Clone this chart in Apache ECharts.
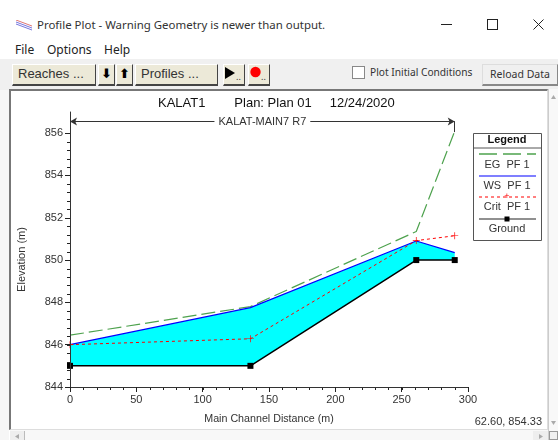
<!DOCTYPE html>
<html><head><meta charset="utf-8">
<script src="https://cdn.jsdelivr.net/npm/echarts@6/dist/echarts.min.js"></script>
<style>
html,body{margin:0;padding:0;background:#fff;overflow:hidden}
#page{position:relative;width:558px;height:440px;overflow:hidden;font-family:"Noto Sans",sans-serif;color:#222}
#page div{position:absolute;box-sizing:border-box;white-space:nowrap}
.btn{background:#ece9d8;border-right:1px solid #444;border-bottom:2px solid #444;border-top:1px solid #fff;border-left:1px solid #fff;font-size:13px;line-height:18px;color:#333;font-family:"Liberation Sans",sans-serif}
#main{left:0;top:0;width:558px;height:440px}
</style></head><body>
<div id="page">
<div style="left:0;top:59px;width:558px;height:31px;background:#f0f0f0"></div>
<div style="left:0;top:90px;width:9px;height:350px;background:#f6f6f6"></div>
<div style="left:9px;top:89px;width:539px;height:341px;background:#fff;border-left:2px solid #777;border-top:2px solid #777;border-right:1px solid #ddd;border-bottom:1px solid #ddd"></div>
<div style="left:548px;top:89px;width:10px;height:351px;background:#f8f8f8;border-left:1px solid #ccc"></div>
<div style="left:10px;top:430px;width:538px;height:10px;background:#f8f8f8"></div>
<div style="left:10px;top:431px;width:15px;height:9px;background:#eee;border-right:1px solid #bbb"></div>
<div style="left:533px;top:431px;width:15px;height:9px;background:#eee"></div>
<div style="left:549px;top:431px;width:9px;height:9px;background:#f0f0f0;border:1px solid #999"></div>
<svg style="position:absolute;left:0;top:0;pointer-events:none" width="558" height="440"><path d="M19 434L15 436.5L19 439z" fill="#aaa"/><path d="M539 434L543 436.5L539 439z" fill="#aaa"/><path d="M551 99L553.5 95L556 99z" fill="#aaa"/><path d="M551 421L553.5 425L556 421z" fill="#aaa"/></svg>
<svg style="position:absolute;left:16px;top:20px" width="18" height="12"><path d="M0 2L16 8M0 4L16 10" stroke="#7777dd" fill="none"/><path d="M0 0L16 6" stroke="#dd7777" fill="none"/></svg>
<div style="left:37px;top:16px;font-size:11.45px;line-height:18px;color:#333">Profile Plot - Warning Geometry is newer than output.</div>
<div style="left:15px;top:42px;font-size:12px;line-height:16px">File</div>
<div style="left:47px;top:42px;font-size:12px;line-height:16px">Options</div>
<div style="left:104px;top:42px;font-size:12px;line-height:16px">Help</div>
<div style="left:441px;top:24px;width:11px;height:1px;background:#222"></div>
<div style="left:487px;top:19px;width:11px;height:11px;border:1px solid #222"></div>
<svg style="position:absolute;left:533px;top:19px" width="12" height="12"><path d="M0.5 0.5L10.5 10.5M10.5 0.5L0.5 10.5" stroke="#222" fill="none"/></svg>
<div class="btn" style="left:12px;top:64px;width:84px;height:22px;padding-left:5px">Reaches ...</div>
<div class="btn" style="left:98px;top:64px;width:17px;height:22px;text-align:center;color:#000;font-weight:bold;font-family:'DejaVu Sans'">&#11015;</div>
<div class="btn" style="left:116px;top:64px;width:17px;height:22px;text-align:center;color:#000;font-weight:bold;font-family:'DejaVu Sans'">&#11014;</div>
<div class="btn" style="left:135px;top:64px;width:83px;height:22px;padding-left:5px">Profiles ...</div>
<div class="btn" style="left:223px;top:64px;width:22px;height:22px"></div>
<svg style="position:absolute;left:225px;top:67px" width="18" height="14"><path d="M0 0L10 6L0 12z" fill="#000"/></svg>
<div style="left:236px;top:72px;font-size:9px;line-height:10px;color:#333">..</div>
<div class="btn" style="left:248px;top:64px;width:22px;height:22px"></div>
<svg style="position:absolute;left:249px;top:66px" width="14" height="14"><circle cx="6.5" cy="6" r="5.2" fill="#f00"/></svg>
<div style="left:261px;top:72px;font-size:9px;line-height:10px;color:#333">..</div>
<div style="left:352px;top:66px;width:13px;height:13px;border:1px solid #888;background:#fff"></div>
<div style="left:370px;top:64px;font-size:10.2px;line-height:16px;color:#333">Plot Initial Conditions</div>
<div style="left:482px;top:64px;width:76px;height:22px;background:#f0f0f0;border-right:1px solid #888;border-bottom:2px solid #888;border-top:1px solid #ddd;border-left:1px solid #ddd;font-size:10.5px;line-height:19px;text-align:center;color:#333">Reload Data</div>
<div id="main"></div>
</div>
<script>
const seriesNames = ['EG  PF 1', 'WS  PF 1', 'Crit  PF 1', 'Ground'];
const stations = [0, 136, 261, 290];
const egValues = [846.45, 847.8, 851.35, 856.1];
const wsValues = [846.0, 847.75, 850.9, 850.35];
const critValues = [846.0, 846.28, 850.92, 851.15];
const groundValues = [845, 845, 850, 850];
const xTicks = { min: 0, max: 300, step: 50, minorCount: 30 };
const yTicks = { min: 844, max: 857, top: 856, step: 2, minorCount: 30 };
const plotTitle = 'KALAT1        Plan: Plan 01     12/24/2020';
const reachLabel = 'KALAT-MAIN7 R7';
const reachElevation = 856.55;
const reachEndElevation = 856.05;
const cursorText = '62.60, 854.33';

const pairs = v => stations.map((s, i) => [s, v[i]]);
const range = (a, b, n) => Array.from({ length: n + 1 }, (_, i) => +(a + (b - a) * i / n).toFixed(2));
const xMinor = range(xTicks.min, xTicks.max, xTicks.minorCount);
const yMinor = range(yTicks.min, yTicks.top, yTicks.minorCount);
const plus = 'path://M4.5 0h1v4.5h4.5v1h-4.5v4.5h-1v-4.5h-4.5v-1h4.5z';
const chart = echarts.init(document.getElementById('main'), null, { renderer: 'canvas' });
const textCol = '#333';
const chartFont = '"Liberation Sans", Arial, sans-serif';
const legendRows = [
  { y: 154, ty: 165, col: '#4ea24e', w: 1.5, dash: [18, 6] },
  { y: 176, ty: 186, col: '#0000ff', w: 1.2 },
  { y: 197, ty: 207, col: '#ff0000', w: 1, dash: [3, 3], mark: 'plus' },
  { y: 219, ty: 229, col: '#222', w: 1.2, mark: 'rect' }
];
const legendGraphics = [
  { type: 'rect', shape: { x: 473.5, y: 133.5, width: 68, height: 107 }, style: { fill: '#fff', stroke: '#555', lineWidth: 1 } },
  { type: 'line', shape: { x1: 473, y1: 148, x2: 541, y2: 148 }, style: { stroke: '#555', lineWidth: 1 } },
  { type: 'text', x: 507, y: 140, style: { text: 'Legend', font: 'bold 11px ' + chartFont, fill: '#111', align: 'center', verticalAlign: 'middle' } }
];
legendRows.forEach((r, i) => {
  legendGraphics.push({ type: 'line', shape: { x1: 479, y1: r.y, x2: 536, y2: r.y }, style: { stroke: r.col, lineWidth: r.w, lineDash: r.dash || null } });
  legendGraphics.push({ type: 'text', x: 507, y: r.ty, style: { text: seriesNames[i], font: '11px ' + chartFont, fill: textCol, align: 'center', verticalAlign: 'middle' } });
  if (r.mark === 'rect') legendGraphics.push({ type: 'rect', shape: { x: 504.5, y: r.y - 2.5, width: 5, height: 5 }, style: { fill: '#000' } });
  if (r.mark === 'plus') legendGraphics.push({ type: 'text', x: 507, y: r.y, style: { text: '+', font: '9px ' + chartFont, fill: '#f00', align: 'center', verticalAlign: 'middle' } });
});
const axisLineStyle = { color: '#333', width: 1 };
chart.setOption({
  backgroundColor: 'transparent',
  animation: false,
  textStyle: { fontFamily: chartFont },
  title: { text: plotTitle, left: 158, top: 97, padding: 0, textStyle: { fontSize: 13, fontWeight: 'normal', color: '#111', fontFamily: chartFont } },
  grid: { left: 70, top: 112, width: 398, height: 275 },
  xAxis: {
    type: 'value', min: xTicks.min, max: xTicks.max, interval: xTicks.step, z: 10,
    name: 'Main Channel Distance (m)', nameLocation: 'middle', nameGap: 27,
    nameTextStyle: { fontSize: 10.7, color: textCol },
    axisLine: { lineStyle: axisLineStyle },
    axisTick: { length: 5, lineStyle: { color: '#222' } },
    axisLabel: { fontSize: 11, color: textCol, margin: 7 },
    splitLine: { show: false }
  },
  yAxis: {
    type: 'value', min: yTicks.min, max: yTicks.max, interval: yTicks.step, z: 10,
    name: 'Elevation (m)', nameLocation: 'middle', nameGap: 43, nameRotate: 90,
    nameTextStyle: { fontSize: 11, color: textCol, padding: [0, 20, 0, 0] },
    axisLine: { onZero: false, lineStyle: axisLineStyle },
    axisTick: { length: 5, lineStyle: { color: '#222' }, customValues: range(yTicks.min, yTicks.top, (yTicks.top - yTicks.min) / yTicks.step) },
    axisLabel: { fontSize: 11, color: textCol, margin: 7, showMaxLabel: false },
    splitLine: { show: false }
  },
  legend: { show: false, data: seriesNames },
  series: [
    { name: 'Flow area', type: 'custom', silent: true, z: 1, data: [0], coordinateSystem: 'cartesian2d',
      renderItem: (params, api) => {
        const upper = pairs(wsValues).map(p => api.coord(p));
        const lower = pairs(groundValues).map(p => api.coord(p)).reverse();
        return { type: 'polygon', shape: { points: upper.concat(lower) }, style: { fill: '#00ffff' } };
      } },
    { name: 'Minor ticks', type: 'custom', silent: true, z: 9, clip: false, data: [0], coordinateSystem: 'cartesian2d',
      renderItem: (params, api) => {
        const style = { stroke: '#222', lineWidth: 1, fill: 'none' };
        const kids = [];
        xMinor.forEach(v => { const p = api.coord([v, yTicks.min]); const x = Math.round(p[0]) + 0.5; kids.push({ type: 'line', shape: { x1: x, y1: p[1], x2: x, y2: p[1] + 3 }, style }); });
        yMinor.forEach(v => { const p = api.coord([xTicks.min, v]); const y = Math.round(p[1]) + 0.5; kids.push({ type: 'line', shape: { x1: p[0] - 3, y1: y, x2: p[0], y2: y }, style }); });
        return { type: 'group', children: kids };
      } },
    { name: seriesNames[0], type: 'line', data: pairs(egValues), showSymbol: false, lineStyle: { color: '#4ea24e', width: 1.2, type: [14, 5] }, z: 4 },
    { name: seriesNames[1], type: 'line', data: pairs(wsValues), showSymbol: false, lineStyle: { color: '#0000ff', width: 1.2 }, z: 5 },
    { name: seriesNames[2], type: 'line', data: pairs(critValues), symbol: plus, symbolSize: 7, itemStyle: { color: '#ff0000' }, lineStyle: { color: '#ff0000', width: 1, type: [3, 3] }, z: 6 },
    { name: seriesNames[3], type: 'line', data: pairs(groundValues), symbol: 'rect', symbolSize: 6, itemStyle: { color: '#000' }, lineStyle: { color: '#000', width: 1.5 }, z: 7,
      markLine: {
        silent: true, animation: false, symbol: ['arrow', 'arrow'], symbolSize: [6, 7], precision: 2,
        lineStyle: { color: '#333', width: 1, type: 'solid' },
        label: { show: true, position: 'insideMiddle', formatter: reachLabel, fontSize: 11, color: textCol, backgroundColor: '#fff', padding: [1, 4] },
        data: [
          [{ coord: [xTicks.min, reachElevation] }, { coord: [stations[3], reachElevation] }],
          [{ coord: [stations[3], reachElevation], symbol: 'none', label: { show: false } }, { coord: [stations[3], reachEndElevation], symbol: 'none' }]
        ]
      } }
  ],
  graphic: legendGraphics.concat([
    { type: 'text', right: 16, top: 416, style: { text: cursorText, font: '11px ' + chartFont, fill: textCol } }
  ])
});
</script>
</body></html>
